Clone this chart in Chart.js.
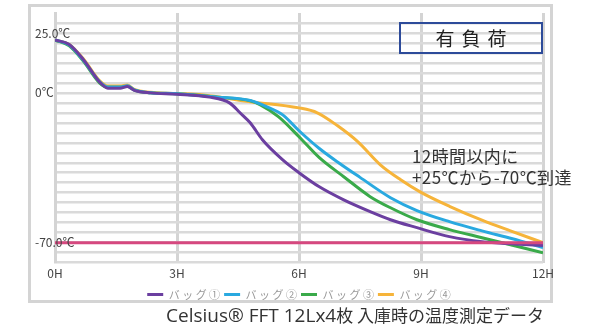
<!DOCTYPE html>
<html>
<head>
<meta charset="utf-8">
<script src="https://cdn.jsdelivr.net/npm/chart.js@4.4.0/dist/chart.umd.min.js"></script>
<style>
  body { margin: 0; background: #fff; font-family: "Noto Sans CJK JP", "Noto Sans", sans-serif; }
  #wrap { position: relative; width: 610px; height: 330px; }
  #frame { position: absolute; left: 28px; top: 4px; width: 519px; height: 293px; border: 3px solid #d4d4d4; }
  #chart { position: absolute; left: 0; top: 0; }
  #badge { position: absolute; left: 399px; top: 22px; width: 140px; height: 28px; border: 2px solid #2d4b9a;
           font-size: 19px; line-height: 28px; text-align: center; letter-spacing: 7px; color: #222; text-indent: 7px; }
  #note { position: absolute; left: 412px; top: 145px; font-size: 17px; line-height: 21px; color: #333;
          white-space: nowrap; letter-spacing: 0.4px; }
  #caption { position: absolute; left: 166px; top: 303px; font-size: 17px; line-height: 24px; color: #333; white-space: nowrap; }
  #caption .lat { font-family: "Open Sans", sans-serif; font-size: 19px; }
</style>
</head>
<body>
<div id="wrap">
  <div id="frame"></div>
  <canvas id="chart" width="610" height="330"></canvas>
  <div id="badge">有負荷</div>
  <div id="note">12時間以内に<br>+25℃から-70℃到達</div>
  <div id="caption"><span class="lat">Celsius® FFT 12Lx4</span>枚 入庫時の温度測定データ</div>
</div>
<script>
"use strict";

// time in hours, temperature in °C
const bag1Hours = [0, 0.35, 0.7, 1.1, 1.3, 1.6, 1.78, 1.95, 2.35, 3.0, 3.8, 4.3, 4.55, 4.8, 5.1, 5.6, 6.0, 6.5, 7.1, 7.75, 8.25, 8.9, 9.7, 10.5, 11.3, 12];
const bag1Temps = [24.7, 22.6, 15.5, 5.0, 2.2, 2.2, 3.0, 1.2, 0.0, -0.6, -2.0, -4.8, -9.3, -14.0, -21.9, -31.3, -37.3, -43.9, -50.0, -55.5, -59.3, -63.0, -67.2, -69.6, -70.6, -71.3];

const bag2Hours = [0, 0.35, 0.7, 1.1, 1.3, 1.6, 1.78, 1.95, 2.35, 3.0, 4.0, 4.8, 5.2, 5.6, 6.0, 6.5, 7.0, 7.5, 8.25, 8.9, 9.7, 10.5, 11.25, 12];
const bag2Temps = [24.7, 22.4, 15.2, 5.2, 2.8, 2.8, 3.3, 1.4, 0.1, -0.4, -2.0, -3.6, -6.4, -10.3, -17.7, -26.0, -33.0, -39.5, -49.0, -55.0, -60.2, -64.5, -68.2, -72.3];

const bag3Hours = [0, 0.35, 0.7, 1.1, 1.3, 1.6, 1.78, 1.95, 2.35, 3.0, 4.0, 4.8, 5.05, 5.5, 6.0, 6.5, 7.1, 7.75, 8.25, 8.9, 9.7, 10.5, 11.25, 12];
const bag3Temps = [24.7, 22.0, 14.8, 4.6, 2.6, 2.6, 3.1, 1.3, 0.0, -0.4, -2.0, -3.7, -5.6, -11.2, -20.5, -30.3, -39.2, -48.5, -53.7, -59.3, -63.9, -67.7, -71.2, -74.7];

const bag4Hours = [0, 0.35, 0.7, 1.1, 1.3, 1.6, 1.78, 1.95, 2.35, 3.0, 3.6, 4.8, 6.0, 6.45, 6.95, 7.45, 8.0, 8.5, 9.0, 9.7, 10.5, 11.2, 12];
const bag4Temps = [24.7, 22.6, 15.8, 5.6, 3.2, 3.2, 3.7, 1.6, 0.3, -0.3, -0.9, -4.1, -7.0, -9.3, -15.4, -22.9, -33.6, -40.6, -46.5, -53.0, -59.5, -64.5, -70.0];

const targetHours = [0, 12];
const targetTemps = [-70, -70];

const bagLabels = ["バ ッ グ ①", "バ ッ グ ②", "バ ッ グ ③", "バ ッ グ ④"];
const bagColors = ["#6b3fa0", "#29a9e0", "#3aaa4a", "#f6b43a"];

const xTickLabels = ["0H", "3H", "6H", "9H", "12H"];
// y labels sit on grid lines (grid step = 70/15 °C)
const yLabelValues = [28, 0, -70];
const yLabelTexts = ["25.0℃", "0℃", "-70.0℃"];

const gridStep = 70 / 15;
const yGrid = [];
for (let k = -17; k <= 8; k++) yGrid.push(k * gridStep);

function points(hours, temps) {
    return hours.map((h, i) => ({ x: h, y: temps[i] }));
}

const series = [
    points(bag1Hours, bag1Temps),
    points(bag2Hours, bag2Temps),
    points(bag3Hours, bag3Temps),
    points(bag4Hours, bag4Temps)
];

const datasets = series.map((d, i) => ({
    label: bagLabels[i],
    data: d,
    borderColor: bagColors[i],
    backgroundColor: bagColors[i],
    borderWidth: 3,
    pointRadius: 0,
    cubicInterpolationMode: "monotone"
}));
datasets.unshift({
    label: "target",
    data: points(targetHours, targetTemps),
    borderColor: "#d6487f",
    borderWidth: 3,
    pointRadius: 0
});

const yLabelPlugin = {
    id: "yLabels",
    afterDraw(chart) {
        const ctx = chart.ctx, y = chart.scales.y;
        ctx.save();
        ctx.font = "12px 'Noto Sans CJK JP'";
        ctx.fillStyle = "#444";
        ctx.textAlign = "left";
        ctx.textBaseline = "middle";
        yLabelValues.forEach((v, i) => ctx.fillText(yLabelTexts[i], 35, y.getPixelForValue(v)));
        ctx.restore();
    }
};

new Chart(document.getElementById("chart"), {
    type: "line",
    data: { datasets: datasets },
    plugins: [yLabelPlugin],
    options: {
        responsive: false,
        animation: false,
        layout: { padding: { left: 55, right: 67, top: 13, bottom: 20 } },
        plugins: {
            tooltip: { enabled: false },
            legend: {
                position: "bottom",
                labels: {
                    filter: item => item.text !== "target",
                    usePointStyle: true,
                    pointStyle: "line",
                    pointStyleWidth: 16,
                    padding: 4,
                    color: "#999",
                    font: { size: 11, family: "'Noto Sans CJK JP'" }
                }
            }
        },
        scales: {
            x: {
                type: "linear",
                min: 0,
                max: 12,
                ticks: {
                    stepSize: 3,
                    padding: 4,
                    color: "#444",
                    font: { size: 12, family: "'Noto Sans CJK JP'" },
                    callback: (v) => xTickLabels[v / 3]
                },
                grid: { color: "#d4d4d4", lineWidth: 3, drawTicks: false },
                border: { display: false }
            },
            y: {
                min: yGrid[0],
                max: yGrid[yGrid.length - 1],
                afterBuildTicks: scale => { scale.ticks = yGrid.map(v => ({ value: v })); },
                ticks: { display: false },
                grid: {
                    color: c => c.index === yGrid.length - 1 ? "rgba(0,0,0,0)" : "#dadada",
                    lineWidth: 2.5,
                    drawTicks: false
                },
                border: { color: "#d4d4d4", width: 3 }
            }
        }
    }
});
</script>
</body>
</html>
